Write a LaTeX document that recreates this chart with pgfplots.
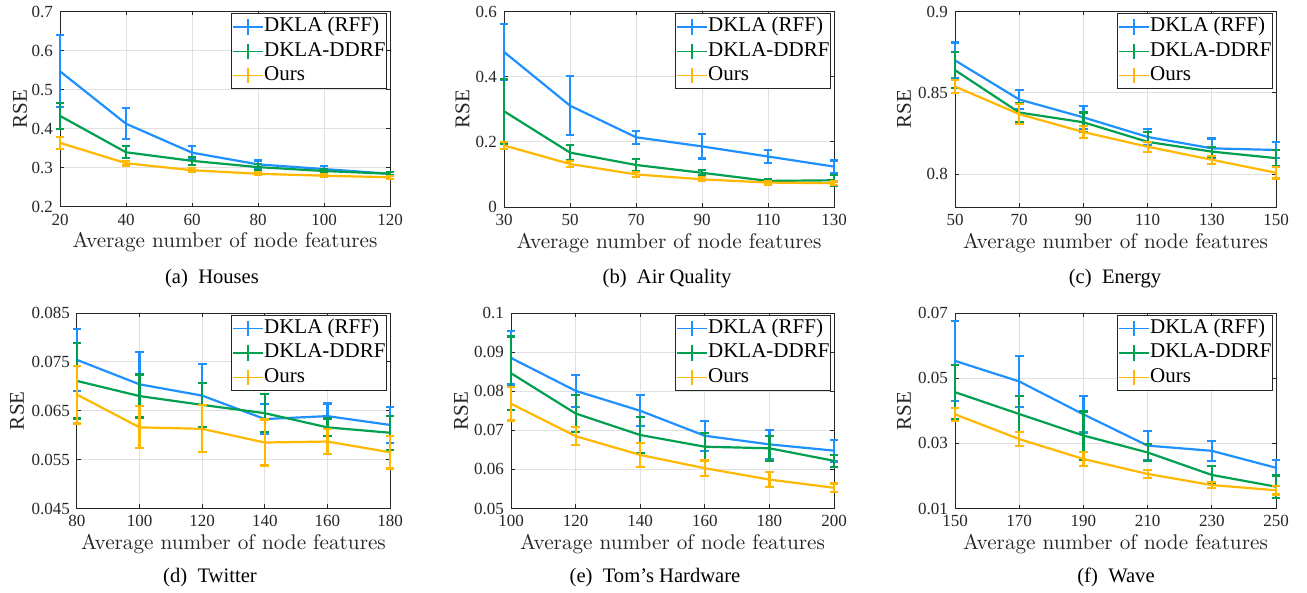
\documentclass[border=0pt]{standalone}
\usepackage{fontspec}
\newfontfamily\tnr{Liberation Serif}
\usepackage{pgfplots}
\pgfplotsset{compat=1.18}

\definecolor{cblue}{RGB}{30,144,255}
\definecolor{cgreen}{RGB}{0,160,80}
\definecolor{cyellow}{RGB}{255,183,0}
\definecolor{axgray}{RGB}{38,38,38}

\pgfplotsset{
  panel/.style={
    scale only axis, anchor=north west, clip=false,
    scaled y ticks=false, scaled x ticks=false,
    xmajorgrids, ymajorgrids,
    grid style={color=black!12, line width=0.5pt},
    axis line style={axgray, line width=0.5pt},
    every tick/.style={axgray, line width=0.5pt},
    major tick length=2pt,
    tick align=inside, xtick pos=both, ytick pos=both,
    ticklabel style={font=\tnr\fontsize{8.5}{10}\selectfont, text=axgray},
    xlabel={Average number of node features},
    every axis x label/.style={at={(axis description cs:0.5,0)}, anchor=base,
      yshift=-20.5pt, font=\fontsize{10.6}{12}\selectfont, text=axgray},
    ylabel={RSE},
    legend style={at={(rel axis cs:1,1)}, anchor=north east, xshift=-1.5pt,
      yshift=-1pt, draw=axgray, line width=0.5pt, fill=white,
      font=\tnr\fontsize{10.5}{12}\selectfont, inner xsep=0.2pt, inner ysep=0.4pt,
      nodes={text height=7.5pt, text depth=2.5pt, inner xsep=0.3pt, inner ysep=1.1pt}},
    legend cell align=left,
    legend image code/.code={
      \draw[line width=0.65pt] (0pt,0pt) -- (15pt,0pt);
      \draw[line width=0.65pt] (7.5pt,-3.6pt) -- (7.5pt,3.6pt);
      \draw[line width=0.5pt] (6.8pt,-3.6pt) -- (8.2pt,-3.6pt) (6.8pt,3.6pt) -- (8.2pt,3.6pt);
    },
  },
  ylab/.style={every axis y label/.style={at={(axis description cs:-#1,0.5)},
      rotate=90, anchor=center, font=\tnr\fontsize{10.5}{12}\selectfont, text=axgray}},
  eb/.style={#1, line width=1.1pt, mark=none,
    error bars/.cd, y dir=both, y explicit,
    error bar style={line width=1.1pt},
    error mark options={rotate=90, mark size=2.2pt, line width=1.1pt}},
}

\begin{document}
\begin{tikzpicture}
\path[use as bounding box] (0,0) rectangle (653.5pt,-296.5pt);

% (a) Houses
\begin{axis}[panel, ylab=0.1212, at={(30pt,-5.75pt)}, width=165pt, height=97.75pt,
  xmin=20, xmax=120, ymin=0.2, ymax=0.7,
  xtick={20,40,60,80,100,120}, xticklabels={20,40,60,80,100,120},
  ytick={0.2,0.3,0.4,0.5,0.6,0.7}, yticklabels={0.2,0.3,0.4,0.5,0.6,0.7}]
\addplot[eb=cblue] coordinates {(20,0.547)+-(0,0.092) (40,0.413)+-(0,0.040) (60,0.339)+-(0,0.016) (80,0.309)+-(0,0.010) (100,0.297)+-(0,0.008) (120,0.285)+-(0,0.005)};
\addlegendentry{DKLA (RFF)}
\addplot[eb=cgreen] coordinates {(20,0.433)+-(0,0.033) (40,0.340)+-(0,0.015) (60,0.318)+-(0,0.010) (80,0.302)+-(0,0.007) (100,0.292)+-(0,0.005) (120,0.285)+-(0,0.004)};
\addlegendentry{DKLA-DDRF}
\addplot[eb=cyellow] coordinates {(20,0.364)+-(0,0.015) (40,0.312)+-(0,0.006) (60,0.294)+-(0,0.005) (80,0.285)+-(0,0.004) (100,0.280)+-(0,0.004) (120,0.276)+-(0,0.004)};
\addlegendentry{Ours}
\end{axis}

% (b) Air Quality
\begin{axis}[panel, ylab=0.1258, at={(252pt,-5.75pt)}, width=165pt, height=97.75pt,
  xmin=30, xmax=130, ymin=0, ymax=0.6,
  xtick={30,50,70,90,110,130}, xticklabels={30,50,70,90,110,130},
  ytick={0,0.2,0.4,0.6}, yticklabels={0,0.2,0.4,0.6}]
\addplot[eb=cblue] coordinates {(30,0.476)+-(0,0.085) (50,0.311)+-(0,0.090) (70,0.214)+-(0,0.020) (90,0.186)+-(0,0.037) (110,0.155)+-(0,0.020) (130,0.124)+-(0,0.019)};
\addlegendentry{DKLA (RFF)}
\addplot[eb=cgreen] coordinates {(30,0.294)+-(0,0.100) (50,0.167)+-(0,0.024) (70,0.129)+-(0,0.018) (90,0.105)+-(0,0.008) (110,0.080)+-(0,0.006) (130,0.082)+-(0,0.017)};
\addlegendentry{DKLA-DDRF}
\addplot[eb=cyellow] coordinates {(30,0.189)+-(0,0.010) (50,0.132)+-(0,0.010) (70,0.100)+-(0,0.008) (90,0.085)+-(0,0.006) (110,0.075)+-(0,0.006) (130,0.073)+-(0,0.005)};
\addlegendentry{Ours}
\end{axis}

% (c) Energy
\begin{axis}[panel, ylab=0.1589, at={(477.5pt,-5.75pt)}, width=160.5pt, height=97.75pt,
  xmin=50, xmax=150, ymin=0.78, ymax=0.9,
  xtick={50,70,90,110,130,150}, xticklabels={50,70,90,110,130,150},
  ytick={0.8,0.85,0.9}, yticklabels={0.8,0.85,0.9}]
\addplot[eb=cblue] coordinates {(50,0.870)+-(0,0.011) (70,0.846)+-(0,0.006) (90,0.835)+-(0,0.007) (110,0.823)+-(0,0.005) (130,0.816)+-(0,0.006) (150,0.815)+-(0,0.005)};
\addlegendentry{DKLA (RFF)}
\addplot[eb=cgreen] coordinates {(50,0.864)+-(0,0.011) (70,0.838)+-(0,0.006) (90,0.832)+-(0,0.006) (110,0.820)+-(0,0.006) (130,0.814)+-(0,0.003) (150,0.810)+-(0,0.005)};
\addlegendentry{DKLA-DDRF}
\addplot[eb=cyellow] coordinates {(50,0.854)+-(0,0.004) (70,0.837)+-(0,0.006) (90,0.826)+-(0,0.0035) (110,0.817)+-(0,0.003) (130,0.809)+-(0,0.0025) (150,0.801)+-(0,0.0035)};
\addlegendentry{Ours}
\end{axis}

% (d) Twitter
\begin{axis}[panel, ylab=0.1917, at={(38.5pt,-156.5pt)}, width=156.5pt, height=97.75pt,
  xmin=80, xmax=180, ymin=0.045, ymax=0.085,
  xtick={80,100,120,140,160,180}, xticklabels={80,100,120,140,160,180},
  ytick={0.045,0.055,0.065,0.075,0.085}, yticklabels={0.045,0.055,0.065,0.075,0.085}]
\addplot[eb=cblue] coordinates {(80,0.0754)+-(0,0.0064) (100,0.0704)+-(0,0.0067) (120,0.0681)+-(0,0.0065) (140,0.0633)+-(0,0.0030) (160,0.0639)+-(0,0.0026) (180,0.0621)+-(0,0.0037)};
\addlegendentry{DKLA (RFF)}
\addplot[eb=cgreen] coordinates {(80,0.0711)+-(0,0.0077) (100,0.0680)+-(0,0.0044) (120,0.0662)+-(0,0.0045) (140,0.0645)+-(0,0.0039) (160,0.0616)+-(0,0.0018) (180,0.0605)+-(0,0.0035)};
\addlegendentry{DKLA-DDRF}
\addplot[eb=cyellow] coordinates {(80,0.0683)+-(0,0.0059) (100,0.0616)+-(0,0.0043) (120,0.0613)+-(0,0.0048) (140,0.0585)+-(0,0.0047) (160,0.0587)+-(0,0.0026) (180,0.0565)+-(0,0.0033)};
\addlegendentry{Ours}
\end{axis}

% (e) Tom's Hardware
\begin{axis}[panel, ylab=0.1548, at={(255.5pt,-156.5pt)}, width=161.5pt, height=97.75pt,
  xmin=100, xmax=200, ymin=0.05, ymax=0.1,
  xtick={100,120,140,160,180,200}, xticklabels={100,120,140,160,180,200},
  ytick={0.05,0.06,0.07,0.08,0.09,0.1}, yticklabels={0.05,0.06,0.07,0.08,0.09,0.1}]
\addplot[eb=cblue] coordinates {(100,0.0885)+-(0,0.0068) (120,0.0801)+-(0,0.0041) (140,0.0750)+-(0,0.0040) (160,0.0686)+-(0,0.0038) (180,0.0664)+-(0,0.0037) (200,0.0648)+-(0,0.0028)};
\addlegendentry{DKLA (RFF)}
\addplot[eb=cgreen] coordinates {(100,0.0846)+-(0,0.0094) (120,0.0743)+-(0,0.0048) (140,0.0688)+-(0,0.0046) (160,0.0658)+-(0,0.0036) (180,0.0654)+-(0,0.0032) (200,0.0622)+-(0,0.0015)};
\addlegendentry{DKLA-DDRF}
\addplot[eb=cyellow] coordinates {(100,0.0768)+-(0,0.0043) (120,0.0685)+-(0,0.0023) (140,0.0637)+-(0,0.0030) (160,0.0603)+-(0,0.0020) (180,0.0574)+-(0,0.0019) (200,0.0553)+-(0,0.0011)};
\addlegendentry{Ours}
\end{axis}

% (f) Wave
\begin{axis}[panel, ylab=0.1589, at={(477.5pt,-156.5pt)}, width=160.5pt, height=97.75pt,
  xmin=150, xmax=250, ymin=0.01, ymax=0.07,
  xtick={150,170,190,210,230,250}, xticklabels={150,170,190,210,230,250},
  ytick={0.01,0.03,0.05,0.07}, yticklabels={0.01,0.03,0.05,0.07}]
\addplot[eb=cblue] coordinates {(150,0.0553)+-(0,0.0122) (170,0.0490)+-(0,0.0078) (190,0.0389)+-(0,0.0056) (210,0.0293)+-(0,0.0044) (230,0.0277)+-(0,0.0031) (250,0.0225)+-(0,0.0024)};
\addlegendentry{DKLA (RFF)}
\addplot[eb=cgreen] coordinates {(150,0.0457)+-(0,0.0084) (170,0.0390)+-(0,0.0055) (190,0.0324)+-(0,0.0074) (210,0.0272)+-(0,0.0026) (230,0.0203)+-(0,0.0027) (250,0.0167)+-(0,0.0034)};
\addlegendentry{DKLA-DDRF}
\addplot[eb=cyellow] coordinates {(150,0.0389)+-(0,0.0020) (170,0.0313)+-(0,0.0022) (190,0.0252)+-(0,0.0022) (210,0.0206)+-(0,0.0013) (230,0.0172)+-(0,0.0010) (250,0.0156)+-(0,0.0013)};
\addlegendentry{Ours}
\end{axis}

% sub-captions
\begin{scope}[every node/.style={anchor=base, font=\tnr\fontsize{10.3}{12}\selectfont}]
\node at (106pt,-142pt) {(a)\enspace Houses};
\node at (333.5pt,-142pt) {(b)\enspace Air Quality};
\node at (557.5pt,-142pt) {(c)\enspace Energy};
\node at (105pt,-291pt) {(d)\enspace Twitter};
\node at (327.5pt,-291pt) {(e)\enspace Tom’s Hardware};
\node at (558pt,-291pt) {(f)\enspace Wave};
\end{scope}
\end{tikzpicture}
\end{document}
